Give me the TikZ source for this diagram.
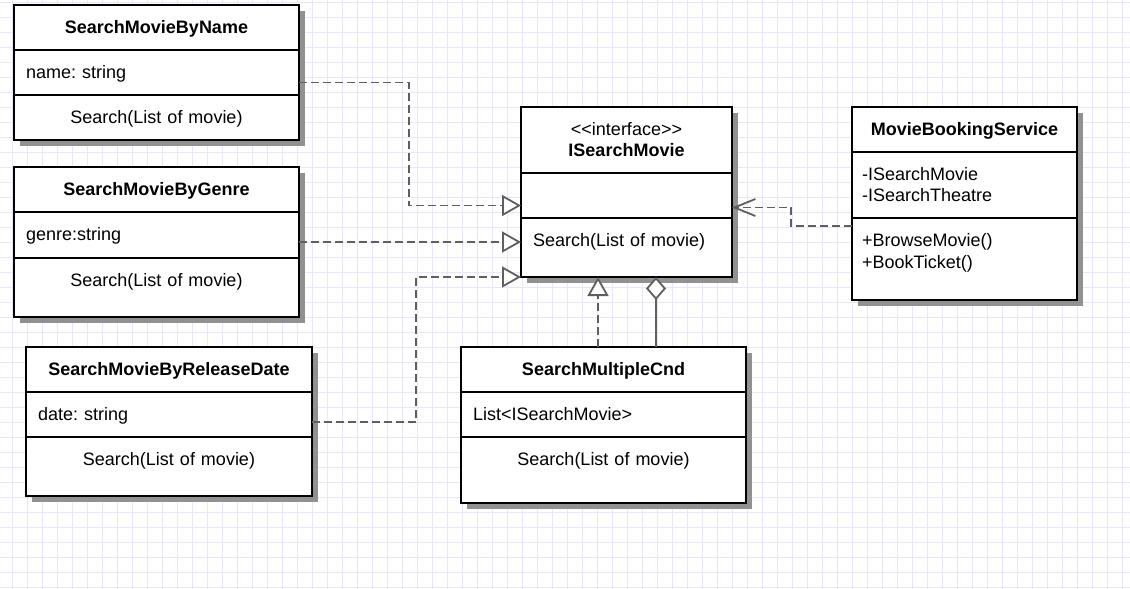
\documentclass[tikz,border=0pt]{standalone}
\usepackage{fontspec}
\setmainfont{Liberation Sans}
\usetikzlibrary{positioning, calc, shadows, arrows.meta}
\definecolor{umlGrid}{RGB}{230,230,252}
\definecolor{umlLine}{RGB}{95,95,95}
\definecolor{umlShadow}{RGB}{145,145,145}

\begin{document}
\begin{tikzpicture}[x=1pt, y=-1pt,
    umlcell/.style={draw=black, line width=2.4pt, fill=white, outer sep=0pt,
      inner xsep=12pt, inner ysep=0pt, text height=28.5pt,
      font=\fontsize{18}{21}\selectfont\frenchspacing,
      drop shadow={shadow xshift=6pt, shadow yshift=-6pt, fill=umlShadow, opacity=1}},
    umlhead/.style={umlcell, align=center, font=\fontsize{18}{21}\selectfont\bfseries},
    umlmid/.style={umlcell, align=center},
    umlleft/.style={umlcell, align=left},
    realize/.style={draw=umlLine, line width=1.8pt, dash pattern=on 8pt off 4pt,
      -{Triangle[open, length=19pt, width=21pt, fill=white]}},
    uses/.style={draw=umlLine, line width=1.8pt, dash pattern=on 8pt off 4pt,
      -{Straight Barb[length=21pt, width=17pt]}},
    aggr/.style={draw=umlLine, line width=1.8pt,
      {Diamond[open, length=23pt, width=20pt, fill=white]}-}]

    % background grid
    \fill[white] (0,0) rectangle (1130,589);
    \useasboundingbox (0,0) rectangle (1130,589);
    \foreach \gx in {0,...,74}
      \draw[umlGrid, line width=1pt] (12+15*\gx,0) -- (12+15*\gx,589);
    \foreach \gy in {0,...,39}
      \draw[umlGrid, line width=1pt] (0,2+15*\gy) -- (1130,2+15*\gy);

    % SearchMovieByName
    \node[umlhead, text width=261pt, text depth=16.5pt, anchor=north west] (nameHead) at (14,5) {SearchMovieByName};
    \node[umlleft, text width=261pt, text depth=16.5pt, below=0pt of nameHead] (nameAttr) {name: string};
    \node[umlmid, text width=261pt, text depth=16.5pt, below=0pt of nameAttr] (nameMeth) {Search(List of movie)};

    % SearchMovieByGenre
    \node[umlhead, text width=261pt, text depth=16.5pt, anchor=north west] (genreHead) at (14,167) {SearchMovieByGenre};
    \node[umlleft, text width=261pt, text depth=17.5pt, below=0pt of genreHead] (genreAttr) {genre:string};
    \node[umlmid, text width=261pt, text depth=30.5pt, below=0pt of genreAttr] (genreMeth) {Search(List of movie)};

    % SearchMovieByReleaseDate
    \node[umlhead, text width=262pt, text depth=16.5pt, anchor=north west] (dateHead) at (26,347) {SearchMovieByReleaseDate};
    \node[umlleft, text width=262pt, text depth=16.5pt, below=0pt of dateHead] (dateAttr) {date: string};
    \node[umlmid, text width=262pt, text depth=30.5pt, below=0pt of dateAttr] (dateMeth) {Search(List of movie)};

    % ISearchMovie
    \node[umlmid, text width=187pt, text depth=37.5pt, anchor=north west] (ismHead) at (521,107)
      {<\kern0pt<interface>\kern0pt>\\\textbf{ISearchMovie}};
    \node[umlleft, text width=187pt, text depth=16.5pt, below=0pt of ismHead] (ismAttr) {};
    \node[umlleft, text width=187pt, text depth=30.5pt, below=0pt of ismAttr] (ismMeth) {Search(List of movie)};

    % MovieBookingService
    \node[umlhead, text width=201pt, text depth=16.5pt, anchor=north west] (mbsHead) at (852,107) {MovieBookingService};
    \node[umlleft, text width=205pt, text depth=37.5pt, inner xsep=10pt, below=0pt of mbsHead] (mbsAttr)
      {-ISearchMovie\\-ISearchTheatre};
    \node[umlleft, text width=205pt, text depth=53.5pt, inner xsep=10pt, below=0pt of mbsAttr] (mbsMeth)
      {+BrowseMovie()\\[1pt]+BookTicket()};

    % SearchMultipleCnd
    \node[umlhead, text width=261pt, text depth=16.5pt, anchor=north west] (smcHead) at (461,347) {SearchMultipleCnd};
    \node[umlleft, text width=261pt, text depth=16.5pt, below=0pt of smcHead] (smcAttr) {List<ISearchMovie>};
    \node[umlmid, text width=261pt, text depth=37.5pt, below=0pt of smcAttr] (smcMeth) {Search(List of movie)};

    % connectors
    \draw[realize] ($(nameAttr.east)+(0,10)$) -- ++(110,0) |- ($(ismAttr.west)+(0,10)$);
    \draw[realize] ($(genreAttr.east)+(0,7)$) -- ($(genreAttr.east -| ismMeth.west)+(0,7)$);
    \draw[realize] ($(dateAttr.east)+(0,7.5)$) -- ++(104,0) |- (ismMeth.south west);
    \draw[realize] ($(smcHead.north)+(-5.5,0)$) -- ($(smcHead.north |- ismMeth.south)+(-5.5,0)$);
    \draw[aggr] ($(smcHead.north |- ismMeth.south)+(52.5,0)$) -- ($(smcHead.north)+(52.5,0)$);
    \draw[uses] ($(mbsMeth.north west)+(0,8)$) -- ++(-61,0) |- ($(ismAttr.east)+(0,12)$);
  \end{tikzpicture}
\end{document}
